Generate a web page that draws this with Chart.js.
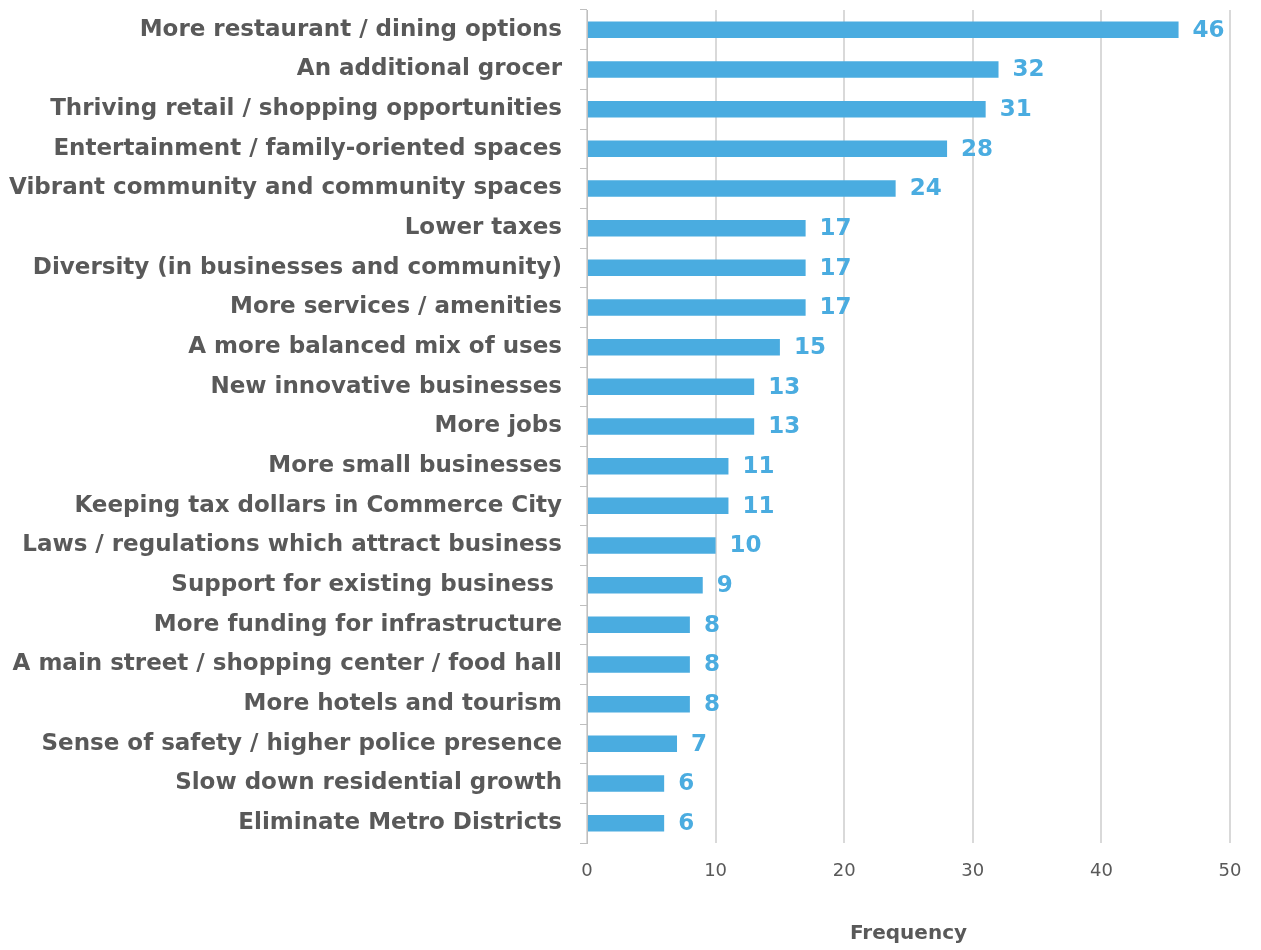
<!DOCTYPE html>
<html>
<head>
<meta charset="utf-8">
<script src="https://cdn.jsdelivr.net/npm/chart.js@4"></script>
<style>
  html, body { margin: 0; padding: 0; background: #fff; }
  #wrap { width: 1261px; height: 950px; position: relative; }
</style>
</head>
<body>
<div id="wrap"><canvas id="chart"></canvas></div>
<script>
const categories = [
  'More restaurant / dining options',
  'An additional grocer',
  'Thriving retail / shopping opportunities',
  'Entertainment / family-oriented spaces',
  'Vibrant community and community spaces',
  'Lower taxes',
  'Diversity (in businesses and community)',
  'More services / amenities',
  'A more balanced mix of uses',
  'New innovative businesses',
  'More jobs',
  'More small businesses',
  'Keeping tax dollars in Commerce City',
  'Laws / regulations which attract business',
  'Support for existing business ',
  'More funding for infrastructure',
  'A main street / shopping center / food hall',
  'More hotels and tourism',
  'Sense of safety / higher police presence',
  'Slow down residential growth',
  'Eliminate Metro Districts'
];
const frequency = [46, 32, 31, 28, 24, 17, 17, 17, 15, 13, 13, 11, 11, 10, 9, 8, 8, 8, 7, 6, 6];
const xTicks = [0, 10, 20, 30, 40, 50];

const BLUE = '#4aace0';
const GREY = '#595959';
const FONT = '"DejaVu Sans", sans-serif';

// value labels to the right of each bar
const barValues = {
  id: 'barValues',
  afterDatasetsDraw(chart) {
    const ctx = chart.ctx;
    const meta = chart.getDatasetMeta(0);
    ctx.save();
    ctx.fillStyle = BLUE;
    ctx.font = 'bold 23px ' + FONT;
    ctx.textAlign = 'left';
    ctx.textBaseline = 'middle';
    meta.data.forEach((bar, i) => {
      ctx.fillText(String(frequency[i]), bar.x + 14, bar.y + 1);
    });
    ctx.restore();
  }
};

new Chart(document.getElementById('chart'), {
  type: 'bar',
  data: {
    labels: categories,
    datasets: [{
      data: frequency,
      backgroundColor: BLUE,
      barPercentage: 0.8,
      categoryPercentage: 0.52
    }]
  },
  options: {
    indexAxis: 'y',
    responsive: true,
    maintainAspectRatio: false,
    animation: false,
    layout: { padding: { top: 10, right: 31, left: 0, bottom: 0 } },
    plugins: {
      legend: { display: false },
      tooltip: { enabled: false }
    },
    scales: {
      x: {
        min: 0,
        max: 50,
        afterBuildTicks: s => { s.ticks = xTicks.map(v => ({ value: v })); },
        afterFit: s => { s.height = 107; },
        grid: { color: '#d9d9d9', lineWidth: 2, drawTicks: false },
        border: { display: false },
        ticks: { color: GREY, font: { family: FONT, size: 18 }, padding: 18 },
        title: {
          display: true,
          text: 'Frequency',
          color: GREY,
          font: { family: FONT, size: 20, weight: 'bold' },
          padding: { top: 42 }
        }
      },
      y: {
        afterFit: s => {
          s.width = 587;
          s.paddingTop = 0;
          s.paddingBottom = 0;
        },
        grid: { drawOnChartArea: false, drawTicks: true, tickLength: 7, color: '#bfbfbf', offset: true },
        border: { display: true, color: '#bfbfbf', width: 1 },
        ticks: { color: GREY, font: { family: FONT, size: 23, weight: 'bold' }, padding: 18, autoSkip: false }
      }
    }
  },
  plugins: [barValues]
});
</script>
</body>
</html>
